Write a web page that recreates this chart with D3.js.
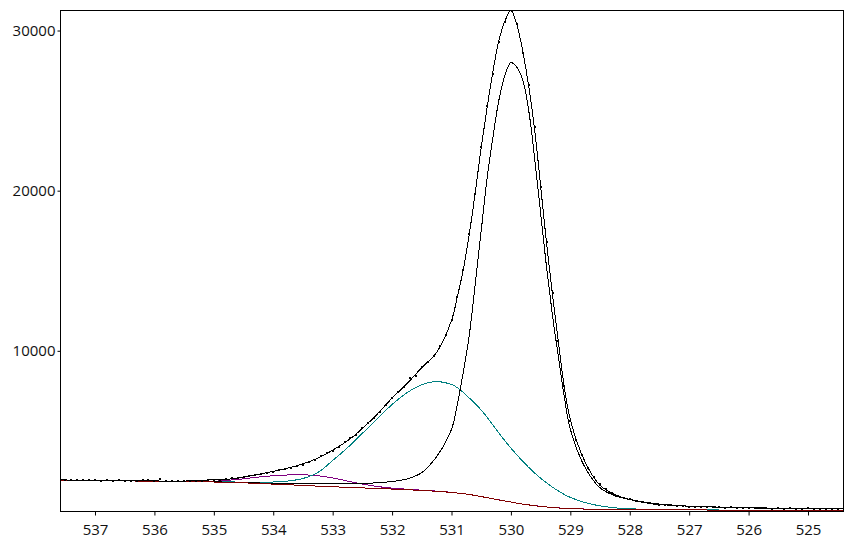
<!DOCTYPE html>
<html>
<head>
<meta charset="utf-8">
<script src="https://cdn.jsdelivr.net/npm/d3@7"></script>
<style>
  body { margin: 0; background: #fff; }
  .tick text { font-family: "Open Sans", "Noto Sans", sans-serif; font-size: 15px; fill: #111; }
</style>
</head>
<body>
<script>
// binding energy grid used for the fitted curves (eV)
const gridEv = [537.6, 537, 536.5, 536, 535.5, 535, 534.75, 534.5, 534.25, 534, 533.75, 533.5, 533.25, 533,
  532.75, 532.5, 532.25, 532, 531.75, 531.5, 531.25, 531, 530.9, 530.8, 530.7, 530.6, 530.5, 530.4, 530.3,
  530.2, 530.1, 530, 529.9, 529.8, 529.7, 529.6, 529.5, 529.4, 529.3, 529.2, 529.1, 529, 528.75, 528.5,
  528.25, 528, 527.75, 527.5, 527, 526.5, 526, 525.5, 525, 524.4]

// shirley background
const background = [1930, 1900, 1880, 1860, 1840, 1810, 1790, 1760, 1720, 1680, 1640, 1600, 1550, 1510,
  1480, 1440, 1410, 1370, 1330, 1280, 1230, 1160, 1120, 1080, 1030, 970, 900, 830, 760,
  690, 620, 560, 490, 430, 380, 330, 290, 250, 220, 190, 170, 150, 120, 100,
  90, 80, 75, 70, 65, 60, 55, 52, 50, 50]

// main component (lattice O) on top of background
const peakMain = [1935, 1905, 1885, 1865, 1845, 1820, 1800, 1775, 1750, 1730, 1720, 1710, 1710, 1715,
  1720, 1730, 1760, 1840, 2000, 2400, 3400, 5100, 6700, 8700, 11000, 14200, 17500, 20800, 23400,
  25700, 27200, 28000, 27700, 26900, 25000, 22000, 18600, 15200, 12200, 9600, 7100, 5100, 2700, 1450,
  950, 720, 560, 430, 300, 240, 195, 165, 145, 125]

// second component (teal)
const peakTeal = [1935, 1905, 1885, 1865, 1845, 1825, 1815, 1805, 1800, 1810, 1870, 2030, 2400, 3150,
  3950, 4850, 5750, 6650, 7380, 7880, 8080, 7900, 7700, 7400, 7050, 6700, 6300, 5850, 5350,
  4850, 4380, 3930, 3500, 3100, 2720, 2370, 2050, 1760, 1490, 1250, 1030, 850, 520, 320,
  200, 140, 105, 88, 70, 62, 57, 54, 51, 50]

// third component (purple)
const peakPurple = [1935, 1905, 1885, 1865, 1850, 1860, 1920, 2010, 2120, 2200, 2250, 2260, 2200, 2060,
  1870, 1680, 1530, 1430, 1360, 1300, 1240, 1165, 1122, 1082, 1032, 972, 902, 832, 762,
  692, 622, 562, 492, 432, 382, 332, 292, 252, 222, 192, 172, 152, 122, 102,
  92, 82, 77, 72, 67, 62, 57, 54, 52, 52]

// fitted envelope
const envelope = [1940, 1915, 1895, 1875, 1870, 1950, 1990, 2120, 2290, 2470, 2680, 2950, 3300, 3800,
  4380, 5150, 6050, 7050, 7950, 8950, 9900, 11900, 13400, 15100, 17300, 19900, 22700, 25200, 27500,
  29400, 30600, 31250, 30350, 28700, 26500, 23800, 20300, 16700, 13500, 10500, 7700, 5700, 3050, 1600,
  1020, 720, 520, 410, 300, 245, 205, 175, 155, 135]

// measured points
const dotEv = [537.5, 537.4, 537.3, 537.2, 537.1, 537.0, 536.9, 536.8, 536.7, 536.6, 536.5, 536.4, 536.3,
  536.2, 536.1, 536.0, 535.9, 535.8, 535.7, 535.6, 535.5, 535.4, 535.3, 535.2, 535.1, 535.0, 534.9,
  534.8, 534.7, 534.6, 534.5, 534.4, 534.3, 534.2, 534.1, 534.0, 533.9, 533.8, 533.7, 533.6, 533.5,
  533.4, 533.3, 533.2, 533.1, 533.0, 532.9, 532.8, 532.7, 532.6, 532.5, 532.4, 532.3, 532.2, 532.1,
  532.0, 531.9, 531.8, 531.7, 531.6, 531.5, 531.4, 531.3, 531.2, 531.1, 531.0, 530.9, 530.8, 530.7,
  530.6, 530.5, 530.4, 530.3, 530.2, 530.1, 530.0, 529.9, 529.8, 529.7, 529.6, 529.5, 529.4, 529.3,
  529.2, 529.1, 529.0, 528.9, 528.8, 528.7, 528.6, 528.5, 528.4, 528.3, 528.2, 528.1, 528.0, 527.9,
  527.8, 527.7, 527.6, 527.5, 527.4, 527.3, 527.2, 527.1, 527.0, 526.9, 526.8, 526.7, 526.6, 526.5,
  526.4, 526.3, 526.2, 526.1, 526.0, 525.9, 525.8, 525.7, 525.6, 525.5, 525.4, 525.3, 525.2, 525.1,
  525.0, 524.9, 524.8, 524.7, 524.6, 524.5]
const dotCounts = [1950, 1930, 1960, 1940, 1950, 1930, 1890, 1920, 1900, 1910, 1880, 1900, 1870,
  1920, 1950, 1880, 2000, 1890, 1860, 1900, 1870, 1880, 1860, 1900, 1920, 1960, 1950,
  2010, 2040, 2060, 2120, 2200, 2250, 2320, 2400, 2450, 2540, 2620, 2700, 2830, 2900,
  3050, 3190, 3420, 3600, 3750, 3980, 4280, 4550, 4760, 5180, 5500, 5820, 6200, 6620,
  7050, 7420, 7720, 8300, 8450, 8980, 9300, 9700, 10300, 11000, 11900, 13350, 15050, 17300,
  19800, 22700, 25300, 27300, 29300, 30550, 31250, 30400, 28600, 26600, 24000, 20200, 16800, 13600,
  10600, 7800, 5600, 4450, 3500, 2700, 2150, 1700, 1380, 1150, 950, 820, 740, 620,
  560, 480, 440, 390, 380, 350, 300, 320, 270, 280, 240, 260, 230, 250,
  200, 230, 190, 210, 180, 200, 160, 190, 150, 170, 140, 160, 130, 150,
  200, 130, 140, 110, 130, 120]

const xTicks = [537, 536, 535, 534, 533, 532, 531, 530, 529, 528, 527, 526, 525]
const yTicks = [10000, 20000, 30000]

const W = 853, H = 540
const plot = { left: 60, top: 10, right: 843, bottom: 511 }

const svg = d3.select('body').append('svg')
    .attr('width', W)
    .attr('height', H)

// binding energy runs high -> low from left to right
const xScale = d3.scaleLinear()
    .domain([537.589, 524.411])
    .range([plot.left, plot.right])

const yScale = d3.scaleLinear()
    .domain([0, 31280])
    .range([plot.bottom, plot.top])

svg.append('clipPath').attr('id', 'clip')
    .append('rect')
    .attr('x', plot.left).attr('y', plot.top)
    .attr('width', plot.right - plot.left).attr('height', plot.bottom - plot.top)

const g = svg.append('g').attr('clip-path', 'url(#clip)')

const line = d3.line()
    .x(d => xScale(d[0]))
    .y(d => yScale(d[1]))
    .curve(d3.curveCatmullRom.alpha(0.5))

const series = [
    { vals: peakPurple, color: '#800080' },
    { vals: peakTeal, color: '#008080' },
    { vals: peakMain, color: '#000000' },
    { vals: background, color: '#800000' },
    { vals: envelope, color: '#000000' }
]

series.forEach(s => {
    g.append('path')
        .datum(d3.zip(gridEv, s.vals))
        .attr('d', line)
        .attr('fill', 'none')
        .attr('stroke', s.color)
        .attr('stroke-width', 1)
        .attr('shape-rendering', 'crispEdges')
})

// measured points as small squares
g.selectAll('.dot')
    .data(d3.zip(dotEv, dotCounts))
    .enter()
    .append('rect')
    .attr('class', 'dot')
    .attr('x', d => Math.round(xScale(d[0])) - 1)
    .attr('y', d => Math.round(yScale(d[1])) - 1)
    .attr('width', 2)
    .attr('height', 2)
    .attr('fill', '#000')

// frame
svg.append('rect')
    .attr('x', plot.left + 0.5).attr('y', plot.top + 0.5)
    .attr('width', plot.right - plot.left).attr('height', plot.bottom - plot.top)
    .attr('fill', 'none')
    .attr('stroke', '#000')
    .attr('stroke-width', 1)
    .attr('shape-rendering', 'crispEdges')

// x axis
const xAxis = svg.append('g')
    .attr('transform', 'translate(0,' + (plot.bottom + 0.5) + ')')
    .call(d3.axisBottom(xScale).tickValues(xTicks).tickFormat(d3.format('d')).tickSize(4).tickPadding(9))
xAxis.select('.domain').remove()

// y axis
const yAxis = svg.append('g')
    .attr('transform', 'translate(' + (plot.left + 0.5) + ',0)')
    .call(d3.axisLeft(yScale).tickValues(yTicks).tickFormat(d3.format('d')).tickSize(3).tickPadding(2))
yAxis.select('.domain').remove()
</script>
</body>
</html>
